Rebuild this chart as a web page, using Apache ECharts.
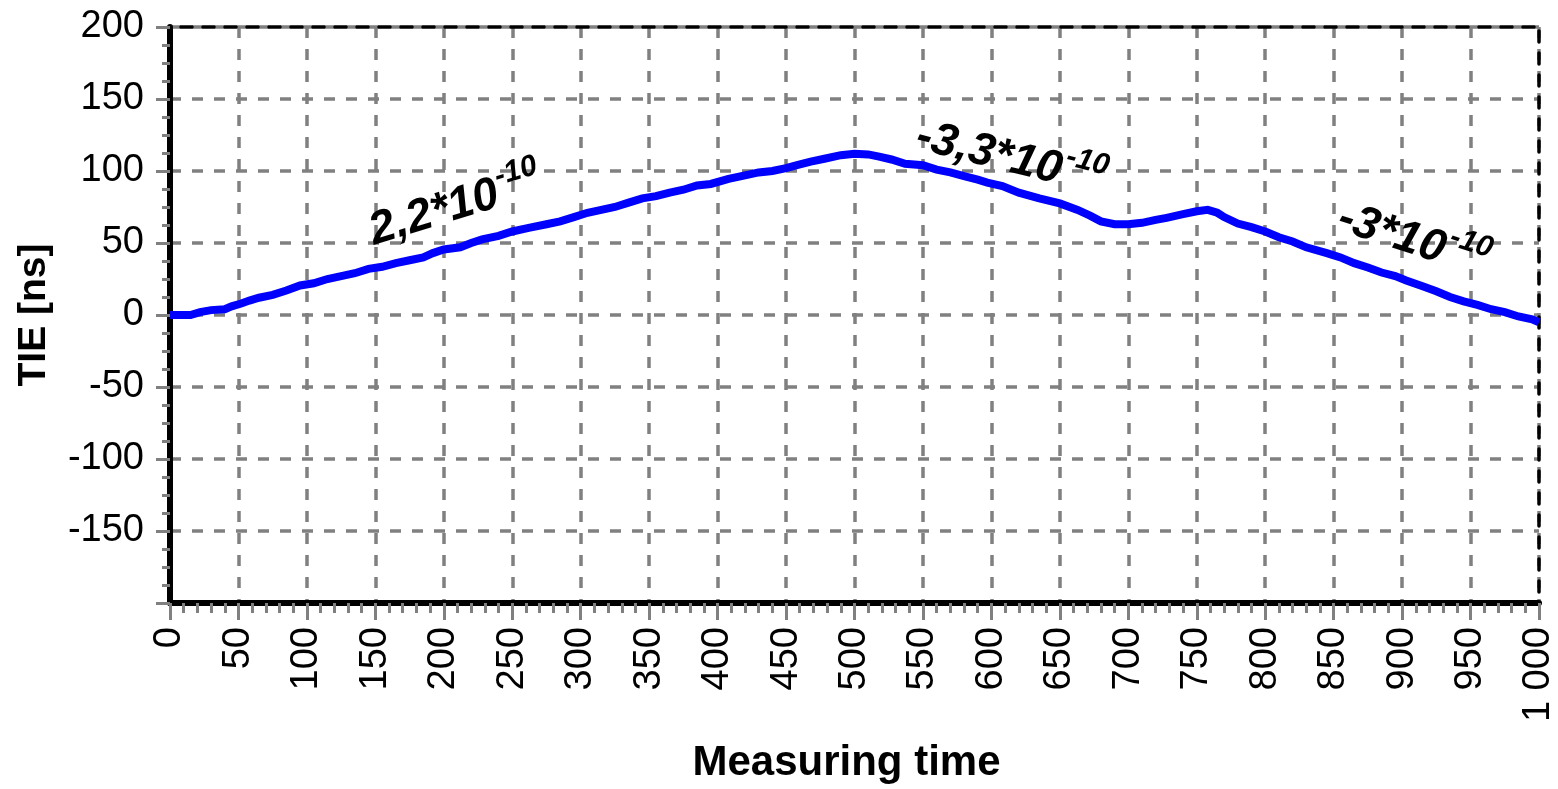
<!DOCTYPE html>
<html>
<head>
<meta charset="utf-8">
<script src="https://cdn.jsdelivr.net/npm/echarts@6/dist/echarts.min.js"></script>
<style>
  html, body { margin: 0; padding: 0; background: #ffffff; }
  #chart { width: 1558px; height: 789px; }
</style>
</head>
<body>
<div id="chart"></div>
<script>
// ---- Data ----
var timeValues = [0, 5, 15, 22, 30, 40, 45, 52, 58, 65, 75, 85, 95, 105, 115, 125, 135, 145, 155, 165,
  175, 185, 192, 200, 212, 220, 228, 240, 250, 262, 275, 285, 295, 305, 315, 325, 335, 345, 355, 365,
  375, 385, 395, 408, 420, 430, 440, 450, 458, 468, 478, 490, 500, 510, 518, 527, 537, 550, 560, 570,
  580, 590, 597, 608, 620, 635, 650, 663, 672, 680, 690, 700, 710, 720, 728, 740, 750, 758, 765, 770,
  780, 790, 800, 810, 820, 830, 845, 855, 865, 875, 885, 895, 903, 915, 925, 935, 945, 955, 965, 975,
  985, 995, 1000];
var tieValues = [0, 0, 0, 2, 3.4, 4, 6, 8, 10, 12, 14, 17, 20.5, 22, 25, 27, 29, 32, 33.5, 36,
  38, 40, 43, 45.5, 47, 50, 52.5, 55, 58, 60.5, 63, 65, 68, 71, 73, 75, 78, 81, 82.5, 85,
  87, 90, 91, 94.5, 97, 99, 100, 102, 104, 106.5, 108.5, 111, 112, 111.5, 110, 108, 105, 104, 101, 99,
  96.5, 94, 92, 89.5, 85, 81, 77.5, 73, 69, 65, 63, 63, 64, 66, 67.5, 70, 72, 73, 71, 68,
  63.5, 61, 58, 54, 51, 47, 43, 40, 36, 33, 29.5, 27, 24, 20, 16.5, 12.5, 9.5, 7, 4, 2,
  -1, -3, -5];
var yTickLabels = { '-200': '', '-150': '-150', '-100': '-100', '-50': '-50', '0': '0', '50': '50', '100': '100', '150': '150', '200': '200' };
var xTickLabelFor1000 = '1 000';
var annotationMain = ['2,2*10', '-3,3*10', '-3*10'];
var annotationSup = ['-10', '-10', '-10'];
var annotationX = [208, 615, 909];
var annotationY = [78, 111, 54];
var annotationRotate = [17, -14, -18];

// ---- Build ----
var seriesData = timeValues.map(function (t, i) { return [t, tieValues[i]]; });
var markData = annotationMain.map(function (m, i) {
  return {
    coord: [annotationX[i], annotationY[i]],
    label: { formatter: '{m|' + m + '}{s|' + annotationSup[i] + '}', rotate: annotationRotate[i] }
  };
});

var FONT = '"Liberation Sans", Arial, sans-serif';
var GRID_LINE = { color: '#808080', width: 3.5, type: [11, 11] };
var chart = echarts.init(document.getElementById('chart'), null, { renderer: 'canvas' });
chart.setOption({
  animation: false,
  backgroundColor: '#ffffff',
  grid: { left: 170, right: 15, top: 27, bottom: 179, containLabel: false },
  xAxis: [{
    type: 'value', min: 0, max: 1000, interval: 50, position: 'bottom',
    name: 'Measuring time', nameLocation: 'middle', nameGap: 139,
    nameTextStyle: { fontFamily: FONT, fontSize: 42, fontWeight: 'bold', color: '#000', padding: [0, 16, 0, 0] },
    axisLine: { show: true, onZero: false, lineStyle: { color: '#000', width: 6 } },
    axisTick: { show: true, length: 17, lineStyle: { color: '#808080', width: 3 } },
    minorTick: { show: true, splitNumber: 5, length: 10, lineStyle: { color: '#808080', width: 3 } },
    axisLabel: {
      show: true, rotate: 90, margin: 24, fontFamily: FONT, fontSize: 38, color: '#000',
      formatter: function (v) { return v === 1000 ? xTickLabelFor1000 : String(v); }
    },
    splitLine: { show: true, lineStyle: GRID_LINE }
  }, {
    type: 'value', min: 0, max: 1000, position: 'top',
    axisLine: { show: true, onZero: false, lineStyle: { color: '#000', width: 3.5, type: [11, 11], dashOffset: 11 } },
    axisTick: { show: false }, axisLabel: { show: false }, splitLine: { show: false }
  }],
  yAxis: [{
    type: 'value', min: -200, max: 200, interval: 50, position: 'left',
    name: 'TIE [ns]', nameLocation: 'middle', nameGap: 116, nameRotate: 90,
    nameTextStyle: { fontFamily: FONT, fontSize: 39, fontWeight: 'bold', color: '#000' },
    axisLine: { show: true, onZero: false, lineStyle: { color: '#000', width: 6 } },
    axisTick: { show: true, length: 14, lineStyle: { color: '#808080', width: 3 } },
    minorTick: { show: true, splitNumber: 4, length: 8, lineStyle: { color: '#808080', width: 3 } },
    axisLabel: {
      show: true, margin: 26, fontFamily: FONT, fontSize: 38, color: '#000',
      formatter: function (v) { return yTickLabels[String(v)]; }
    },
    splitLine: { show: true, lineStyle: GRID_LINE }
  }, {
    type: 'value', min: -200, max: 200, position: 'right',
    axisLine: { show: true, onZero: false, lineStyle: { color: '#000', width: 3.5, type: [11, 11], dashOffset: 11 } },
    axisTick: { show: false }, axisLabel: { show: false }, splitLine: { show: false }
  }],
  series: [{
    type: 'line',
    data: seriesData,
    showSymbol: false,
    clip: true,
    lineStyle: { color: '#0000ff', width: 8, join: 'miter' },
    itemStyle: { color: '#0000ff' },
    z: 5,
    markPoint: {
      symbol: 'circle', symbolSize: 0, silent: true,
      label: {
        show: true, position: 'inside', color: '#000',
        rich: {
          m: { fontFamily: FONT, fontSize: 46, fontWeight: 'bold', fontStyle: 'italic', color: '#000', verticalAlign: 'bottom' },
          s: { fontFamily: FONT, fontSize: 30, fontWeight: 'bold', fontStyle: 'italic', color: '#000', verticalAlign: 'top', padding: [0, 0, 24, 2] }
        }
      },
      data: markData
    }
  }]
});
</script>
</body>
</html>
